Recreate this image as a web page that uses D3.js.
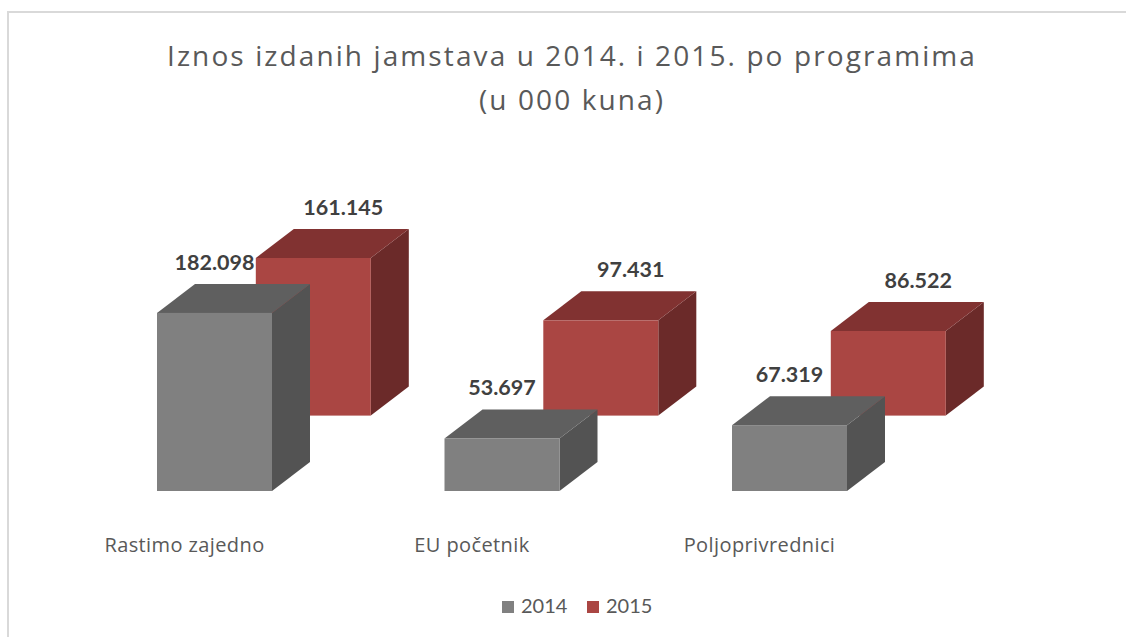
<!DOCTYPE html>
<html>
<head>
<meta charset="utf-8">
<script src="https://d3js.org/d3.v7.min.js"></script>
<style>
  body { margin: 0; background: #fff; }
  text { font-family: Lato, "Open Sans", sans-serif; }
</style>
</head>
<body>
<script>
// podaci (u 000 kuna)
const categories = ["Rastimo zajedno", "EU početnik", "Poljoprivrednici"];
const years = ["2014", "2015"];
const values2014 = [182098, 53697, 67319];
const values2015 = [161145, 97431, 86522];
const titleLines = ["Iznos izdanih jamstava u 2014. i 2015. po programima", "(u 000 kuna)"];

const W = 1126, H = 637;

// boje: prednja strana, vrh, bok
const colors = {
  "2014": {front: "#808080", top: "#5f5f5f", side: "#535353"},
  "2015": {front: "#aa4643", top: "#813231", side: "#6b2a29"}
};

const hr = d3.formatLocale({decimal: ",", thousands: ".", grouping: [3], currency: ["", " kn"]});
const fmt = hr.format(",");

const svg = d3.select("body").append("svg")
  .attr("width", W)
  .attr("height", H);

// okvir grafikona
svg.append("rect")
  .attr("x", 8).attr("y", 12)
  .attr("width", W + 20).attr("height", H + 20)
  .attr("fill", "none")
  .attr("stroke", "#d9d9d9")
  .attr("stroke-width", 2);

// naslov
svg.append("text")
  .attr("text-anchor", "middle")
  .attr("fill", "#595959")
  .style("font-family", "'Open Sans', sans-serif")
  .style("font-size", "28px")
  .style("letter-spacing", "2.1px")
  .selectAll("tspan")
  .data(titleLines)
  .join("tspan")
    .attr("x", 572)
    .attr("y", (d, i) => 66 + i * 44)
    .text(d => d);

let x = d3.scaleBand()
  .domain(categories)
  .range([99.5, 904.5])
  .paddingInner(0.6)
  .paddingOuter(0.2);

let h = d3.scaleLinear()
  .domain([0, 200000])
  .range([0, 195.6]);

const baseY = 491;
const depth = {dx: 38, dy: -29};
// pomak serije u dubinu (u jedinicama dubine stupca)
const seriesZ = {"2014": 0, "2015": 2.6};
const labelDx = {"2014": 0, "2015": 30};

const series = [
  {key: "2015", values: values2015},
  {key: "2014", values: values2014}
];

series.forEach(s => {
  let g = svg.append("g").attr("class", "s" + s.key);
  let z = seriesZ[s.key];
  let bars = categories.map((c, i) => {
    let x0 = x(c) + z * depth.dx;
    let y0 = baseY + z * depth.dy;
    let y1 = y0 - h(s.values[i]);
    return {c, v: s.values[i], x0, x1: x0 + x.bandwidth(), y0, y1};
  });

  let bar = g.selectAll("g")
    .data(bars)
    .join("g");

  bar.append("polygon")
    .attr("points", d => [[d.x1, d.y0], [d.x1 + depth.dx, d.y0 + depth.dy], [d.x1 + depth.dx, d.y1 + depth.dy], [d.x1, d.y1]].join(" "))
    .attr("fill", colors[s.key].side);

  bar.append("polygon")
    .attr("points", d => [[d.x0, d.y1], [d.x0 + depth.dx, d.y1 + depth.dy], [d.x1 + depth.dx, d.y1 + depth.dy], [d.x1, d.y1]].join(" "))
    .attr("fill", colors[s.key].top);

  bar.append("rect")
    .attr("x", d => d.x0)
    .attr("y", d => d.y1)
    .attr("width", x.bandwidth())
    .attr("height", d => d.y0 - d.y1)
    .attr("fill", colors[s.key].front);

  bar.append("text")
    .attr("x", d => (d.x0 + d.x1) / 2 + labelDx[s.key])
    .attr("y", d => d.y1 - 43)
    .attr("text-anchor", "middle")
    .attr("fill", "#404040")
    .style("font-size", "21.5px")
    .style("font-weight", "bold")
    .text(d => fmt(d.v));
});

// kategorije
svg.append("g")
  .selectAll("text")
  .data(categories)
  .join("text")
    .attr("x", d => x(d) + x.bandwidth() / 2 - 30)
    .attr("y", 552)
    .attr("text-anchor", "middle")
    .attr("fill", "#595959")
    .style("font-family", "'Open Sans', sans-serif")
    .style("font-size", "20px")
    .style("letter-spacing", "0.4px")
    .text(d => d);

// legenda
let legend = svg.append("g")
  .selectAll("g")
  .data(years)
  .join("g")
    .attr("transform", (d, i) => `translate(${502 + i * 85},601)`);

legend.append("rect")
  .attr("width", 12).attr("height", 12)
  .attr("fill", d => colors[d].front);

legend.append("text")
  .attr("x", 19).attr("y", 12)
  .attr("fill", "#595959")
  .style("font-size", "20px")
  .text(d => d);
</script>
</body>
</html>
